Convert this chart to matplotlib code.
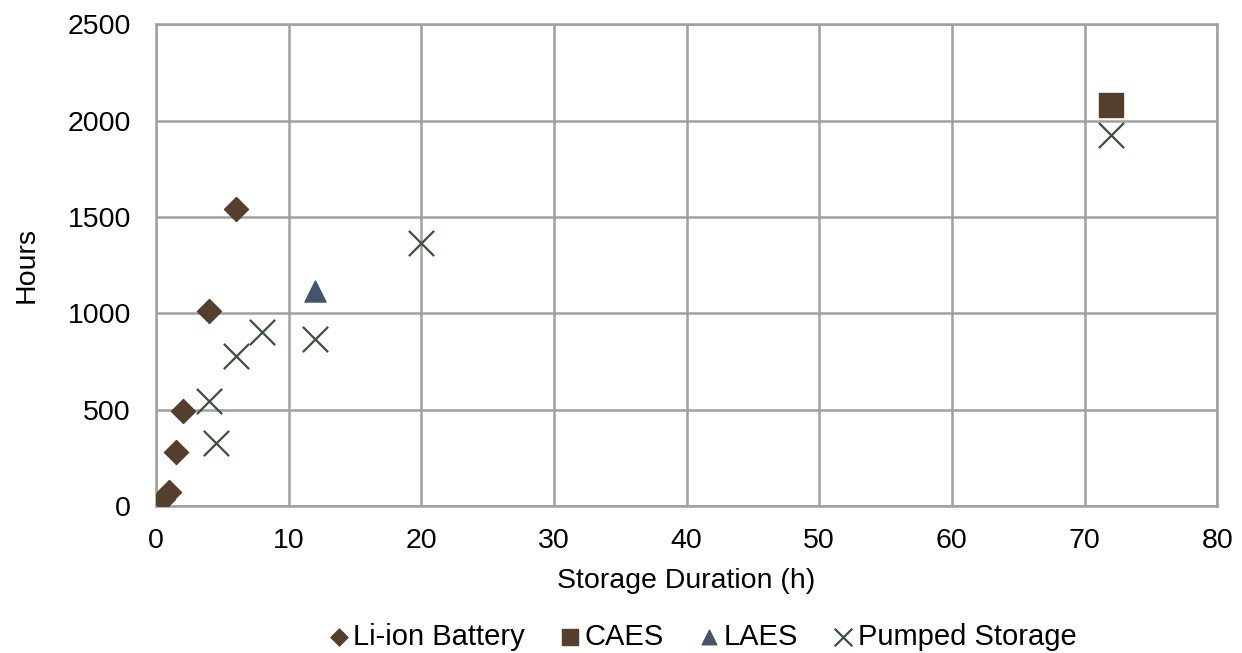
import matplotlib.pyplot as plt

plt.rcParams['font.family'] = ['Liberation Sans', 'DejaVu Sans']

# data
liion_x = [0.5, 1, 1.5, 2, 4, 6]
liion_y = [35, 75, 280, 495, 1010, 1540]
caes_x = [72]
caes_y = [2080]
laes_x = [12]
laes_y = [1115]
pumped_x = [4, 4.5, 6, 8, 12, 20, 72]
pumped_y = [545, 325, 780, 905, 865, 1365, 1925]

fig = plt.figure(figsize=(12.42, 6.53), dpi=100)
ax = fig.add_axes([0.1256, 0.225, 0.8544, 0.738])

ax.scatter(liion_x, liion_y, marker='D', s=150, color='#533F2C', label='Li-ion Battery', zorder=3)
ax.scatter(caes_x, caes_y, marker='s', s=290, color='#533F2C', label='CAES', zorder=3)
ax.scatter(laes_x, laes_y, marker='^', s=230, color='#44546A', label='LAES', zorder=3)
ax.scatter(pumped_x, pumped_y, marker='x', s=330, color='#3B4F3B', linewidths=1.6,
           label='Pumped Storage', zorder=3)

ax.set_xlim(0, 80)
ax.set_ylim(0, 2500)
ax.set_xticks(range(0, 81, 10))
ax.set_yticks(range(0, 2501, 500))
ax.grid(True, color='#A0A0A0', linewidth=1.8)
ax.set_axisbelow(True)
for s in ax.spines.values():
    s.set_color('#A0A0A0')
    s.set_linewidth(1.8)
ax.tick_params(axis='y', length=0, labelsize=20.5, pad=18)
ax.tick_params(axis='x', length=0, labelsize=20.5, pad=16)

ax.set_xlabel('Storage Duration (h)', fontsize=20.5, labelpad=10)
ax.set_ylabel('Hours', fontsize=20.5, labelpad=20)

leg = fig.legend(loc='center', bbox_to_anchor=(0.5656, 0.025), ncol=4, frameon=False,
                 fontsize=21, handlelength=0.7, handletextpad=0.15, columnspacing=1.2,
                 borderpad=0)
for h, sz in zip(leg.legend_handles, [75, 120, 110, 160]):
    h.set_sizes([sz])

fig.savefig('out.png', dpi=100)
